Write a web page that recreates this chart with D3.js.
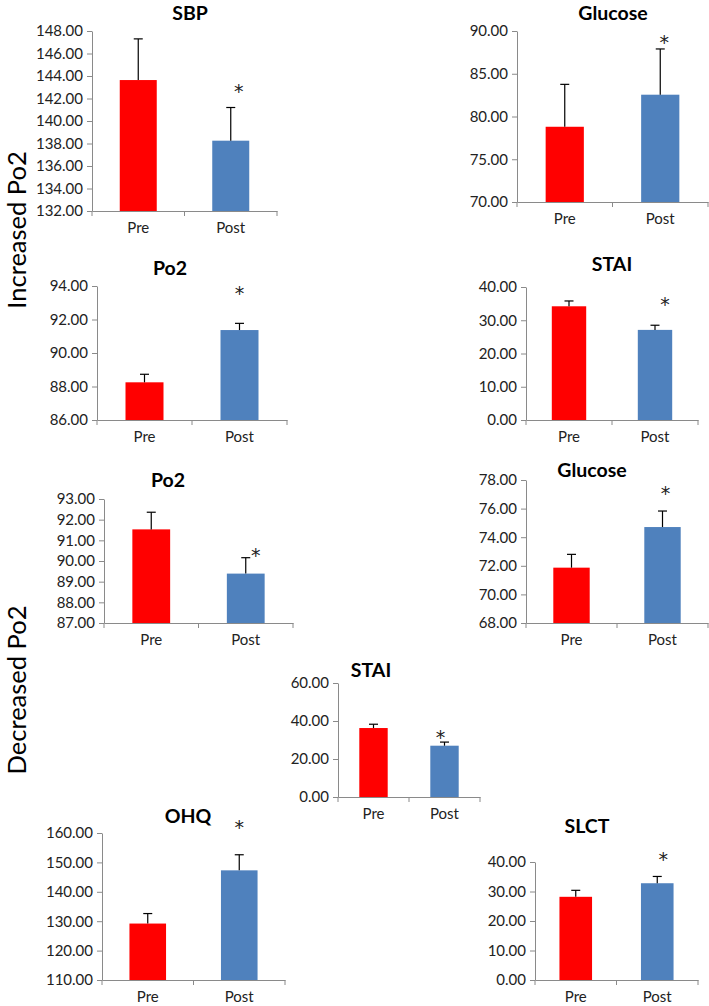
<!DOCTYPE html>
<html>
<head>
<meta charset="utf-8">
<script src="https://cdn.jsdelivr.net/npm/d3@7"></script>
<style>
  html, body { margin: 0; padding: 0; background: #fff; }
  svg { display: block; }
</style>
</head>
<body>
<svg id="chart" width="709" height="1006"></svg>
<script>
// ---------- DATA ----------
const panelTitles = ["SBP", "Glucose", "Po2", "STAI", "Po2", "Glucose", "STAI", "OHQ", "SLCT"];
const categories = ["Pre", "Post"];
const preValues  = [143.64, 78.8, 88.25, 34.2, 91.53, 71.87, 36.3, 129.2, 28.2];
const postValues = [138.25, 82.55, 91.37, 27.1, 89.39, 74.71, 27.0, 147.3, 32.8];
const preErrors  = [3.66, 4.96, 0.48, 1.6, 0.83, 0.93, 2.0, 3.4, 2.2];
const postErrors = [2.95, 5.35, 0.40, 1.4, 0.77, 1.12, 1.9, 5.3, 2.3];
const axisMin  = [132, 70, 86, 0, 87, 68, 0, 110, 0];
const axisMax  = [148, 90, 94, 40, 93, 78, 60, 160, 40];
const axisStep = [2, 5, 2, 10, 1, 2, 20, 10, 10];
const starLevel = [143.0, 89.2, 93.8, 36.1, 90.5, 77.4, 33.7, 163.4, 42.3]; // "*" marks on Post
const sideLabels = ["Increased Po2", "Decreased Po2"];

// ---------- LAYOUT (pixel frame of each panel) ----------
const layout = [
  {x0: 92,  x1: 277, top: 31,  bottom: 211, tx: 190, ty: 20,  sdx: 8},
  {x0: 517, x1: 708, top: 31,  bottom: 202, tx: 613, ty: 20,  sdx: 4},
  {x0: 97,  x1: 287, top: 286, bottom: 420, tx: 170, ty: 275, sdx: 0},
  {x0: 526, x1: 698, top: 287, bottom: 420, tx: 612, ty: 271, sdx: 10},
  {x0: 104, x1: 293, top: 499, bottom: 623, tx: 168, ty: 487, sdx: 10},
  {x0: 526, x1: 708, top: 480, bottom: 623, tx: 592, ty: 477, sdx: 3},
  {x0: 338, x1: 480, top: 683, bottom: 797, tx: 371, ty: 677, sdx: -4},
  {x0: 102, x1: 285, top: 833, bottom: 980, tx: 188, ty: 823, sdx: 0},
  {x0: 535, x1: 698, top: 862, bottom: 980, tx: 587, ty: 833, sdx: 6}
];
const sideLayout = [{x: 25.5, y: 230}, {x: 25.5, y: 690}];

const colors = {Pre: "#FF0000", Post: "#4F81BD"};
const axisColor = "#8a8a8a";
const textColor = "#222";
const font = "Lato, 'Open Sans', sans-serif";

const svg = d3.select("#chart");

panelTitles.forEach((title, i) => {
  const L = layout[i];
  const g = svg.append("g");
  const x = d3.scaleBand().domain(categories).range([L.x0, L.x1])
    .paddingInner(0.6).paddingOuter(0.3);
  const y = d3.scaleLinear().domain([axisMin[i], axisMax[i]]).range([L.bottom, L.top]);
  const ticks = d3.range(axisMin[i], axisMax[i] + axisStep[i] / 2, axisStep[i]);

  const rows = categories.map((c, k) => ({
    cat: c,
    v: k === 0 ? preValues[i] : postValues[i],
    e: k === 0 ? preErrors[i] : postErrors[i]
  }));

  // bars
  g.selectAll("rect.bar").data(rows).join("rect")
    .attr("class", "bar")
    .attr("x", d => x(d.cat))
    .attr("width", x.bandwidth())
    .attr("y", d => y(d.v))
    .attr("height", d => y(axisMin[i]) - y(d.v))
    .attr("fill", d => colors[d.cat]);

  // error bars (upper only)
  const cx = d => x(d.cat) + x.bandwidth() / 2;
  g.selectAll("line.err").data(rows).join("line")
    .attr("x1", cx).attr("x2", cx)
    .attr("y1", d => y(d.v)).attr("y2", d => y(d.v + d.e))
    .attr("stroke", "#000").attr("stroke-width", 1.2);
  g.selectAll("line.cap").data(rows).join("line")
    .attr("x1", d => cx(d) - 4.5).attr("x2", d => cx(d) + 4.5)
    .attr("y1", d => y(d.v + d.e)).attr("y2", d => y(d.v + d.e))
    .attr("stroke", "#000").attr("stroke-width", 1.2);

  // y axis
  const yAxis = g.append("g")
    .attr("transform", `translate(${L.x0},0)`)
    .call(d3.axisLeft(y).tickValues(ticks).tickFormat(d3.format(".2f"))
      .tickSize(5).tickPadding(4).tickSizeOuter(0));
  yAxis.select(".domain").attr("stroke", axisColor);
  yAxis.selectAll(".tick line").attr("stroke", axisColor);
  yAxis.selectAll(".tick text").attr("fill", textColor)
    .style("font-family", font).style("font-size", "15px");

  // x axis: labels
  const xAxis = g.append("g")
    .attr("transform", `translate(0,${L.bottom})`)
    .call(d3.axisBottom(x).tickSize(0).tickPadding(11).tickSizeOuter(0));
  xAxis.select(".domain").attr("stroke", axisColor);
  xAxis.selectAll(".tick text").attr("fill", textColor)
    .style("font-family", font).style("font-size", "15px");
  // category boundary ticks
  const bounds = [L.x0, (L.x0 + L.x1) / 2, L.x1];
  g.selectAll("line.bound").data(bounds).join("line")
    .attr("x1", d => d).attr("x2", d => d)
    .attr("y1", L.bottom).attr("y2", L.bottom + 5)
    .attr("stroke", axisColor);

  // title
  g.append("text")
    .attr("x", L.tx).attr("y", L.ty)
    .attr("text-anchor", "middle")
    .style("font-family", font).style("font-weight", "bold").style("font-size", "19.5px")
    .attr("fill", "#000")
    .text(title);

  // significance star
  g.append("text")
    .attr("x", x("Post") + x.bandwidth() / 2 + L.sdx)
    .attr("y", y(starLevel[i]) + 11)
    .attr("text-anchor", "middle")
    .style("font-family", "'DejaVu Sans', sans-serif").style("font-size", "19px")
    .attr("fill", textColor)
    .text("*");
});

// side labels
svg.selectAll("text.side").data(sideLabels).join("text")
  .attr("class", "side")
  .attr("transform", (d, k) => `translate(${sideLayout[k].x},${sideLayout[k].y}) rotate(-90)`)
  .attr("text-anchor", "middle")
  .style("font-family", font).style("font-size", "25.5px")
  .attr("fill", "#000")
  .text(d => d);
</script>
</body>
</html>
